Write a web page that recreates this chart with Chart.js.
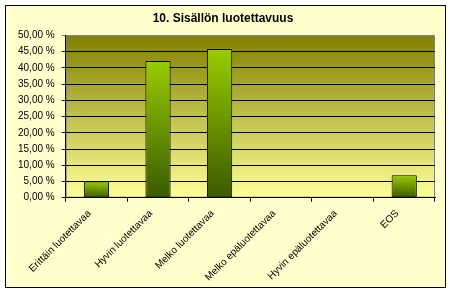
<!DOCTYPE html>
<html>
<head>
<meta charset="utf-8">
<script src="https://cdn.jsdelivr.net/npm/chart.js@4/dist/chart.umd.min.js"></script>
<style>
  body { margin: 0; background: #fff; }
  #frame {
    position: absolute; left: 5px; top: 5px;
    width: 439px; height: 281px;
    border: 1px solid #000; background: #FFFFCC;
  }
  #chart { position: absolute; left: 0; top: 0; }
</style>
</head>
<body>
<div id="frame"></div>
<canvas id="chart" width="450" height="294"></canvas>
<script>
// Chart data
const categories = ['Erittäin luotettavaa', 'Hyvin luotettavaa', 'Melko luotettavaa', 'Melko epäluotettavaa', 'Hyvin epäluotettavaa', 'EOS'];
const shares = [5.0, 42.1, 45.8, 0, 0, 6.9];
const yTicks = [0, 5, 10, 15, 20, 25, 30, 35, 40, 45, 50];
const chartTitle = '10. Sisällön luotettavuus';

const FONT = 'Arial, "Liberation Sans", sans-serif';

// Excel-like gradient plot area
const plotBackground = {
  id: 'plotBackground',
  beforeDraw(chart) {
    const { ctx, chartArea: a } = chart;
    if (!a) return;
    const g = ctx.createLinearGradient(0, a.top, 0, a.bottom);
    g.addColorStop(0, '#808000');
    g.addColorStop(1, '#FFFF99');
    ctx.save();
    ctx.fillStyle = g;
    ctx.fillRect(a.left, a.top, a.right - a.left, a.bottom - a.top);
    ctx.strokeStyle = '#808080';
    ctx.lineWidth = 1;
    ctx.strokeRect(a.left + 0.5, a.top + 0.5, a.right - a.left - 1, a.bottom - a.top - 1);
    ctx.restore();
  }
};

function barGradient(context) {
  const chart = context.chart;
  if (!chart.chartArea || !chart.scales.y) return '#99CC00';
  const y = chart.scales.y;
  const top = y.getPixelForValue(context.raw);
  const base = y.getPixelForValue(0);
  if (base - top < 1) return '#99CC00';
  const g = chart.ctx.createLinearGradient(0, top, 0, base);
  g.addColorStop(0, '#99CC00');
  g.addColorStop(1, '#3A5A00');
  return g;
}

function formatPercent(v) {
  return v.toFixed(2).replace('.', ',') + ' %';
}

new Chart(document.getElementById('chart'), {
  type: 'bar',
  data: {
    labels: categories,
    datasets: [{
      data: shares,
      backgroundColor: barGradient,
      borderColor: '#000',
      borderWidth: ctx => (ctx.raw ? 1 : 0),
      borderSkipped: false,
      barPercentage: 0.41,
      categoryPercentage: 1
    }]
  },
  options: {
    responsive: false,
    animation: false,
    layout: { padding: { left: 11, right: 15, top: 11, bottom: 4.6 } },
    plugins: {
      legend: { display: false },
      tooltip: { enabled: false },
      title: {
        display: true,
        text: chartTitle,
        color: '#000',
        font: { family: FONT, size: 12, weight: 'bold' },
        padding: { top: 0, bottom: 10 }
      }
    },
    scales: {
      x: {
        offset: true,
        border: { display: true, color: '#000', width: 1 },
        grid: {
          offset: true,
          drawOnChartArea: false,
          drawTicks: true,
          tickLength: 4,
          color: '#000'
        },
        ticks: {
          color: '#000',
          font: { family: FONT, size: 10 },
          maxRotation: 45,
          minRotation: 45,
          autoSkip: false,
          labelOffset: -7,
          padding: 6
        }
      },
      y: {
        min: 0,
        max: 50,
        afterBuildTicks: axis => { axis.ticks = yTicks.map(v => ({ value: v })); },
        border: { display: true, color: '#000', width: 1 },
        grid: {
          color: ctx => (ctx.tick && ctx.tick.value === 50 ? '#808080' : '#000'),
          tickLength: 4,
          drawTicks: true
        },
        ticks: {
          color: '#000',
          font: { family: FONT, size: 10 },
          padding: 7,
          callback: v => formatPercent(v)
        }
      }
    }
  },
  plugins: [plotBackground]
});
</script>
</body>
</html>
